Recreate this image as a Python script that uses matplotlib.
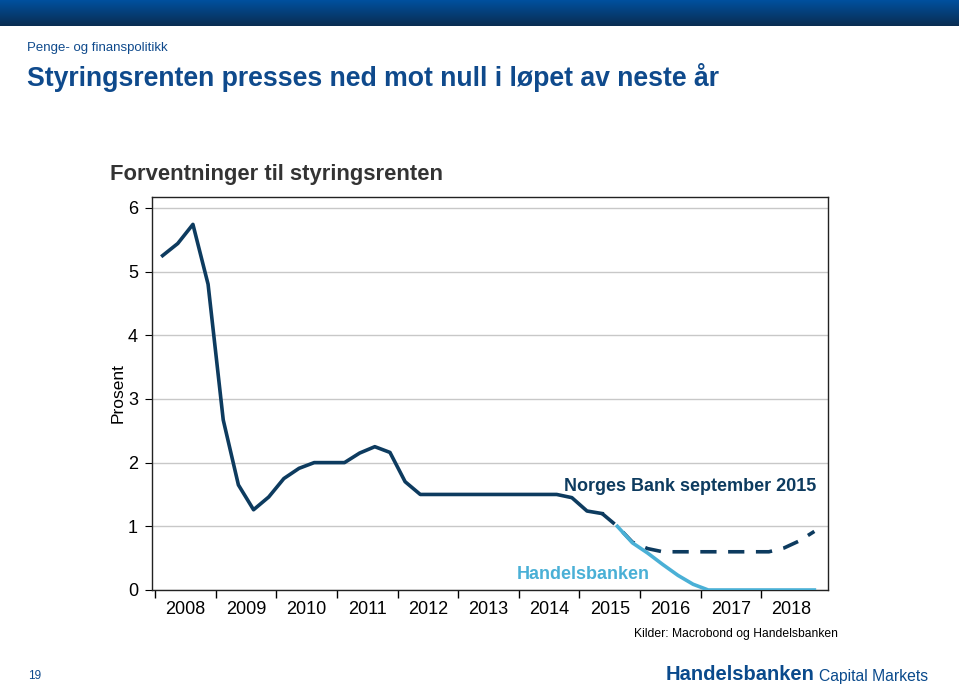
import numpy as np
import matplotlib.pyplot as plt
from matplotlib.ticker import FixedLocator, NullFormatter
from matplotlib.colors import LinearSegmentedColormap

plt.rcParams['font.family'] = ['Liberation Sans', 'DejaVu Sans']

# quarterly data 2008 Q1 - 2018 Q4
quarters = 2008.125 + 0.25 * np.arange(44)
norges_bank = [5.25, 5.44, 5.74, 4.8, 2.67, 1.65, 1.26, 1.46, 1.75, 1.91,
               2.0, 2.0, 2.0, 2.15, 2.25, 2.16, 1.7, 1.5, 1.5, 1.5,
               1.5, 1.5, 1.5, 1.5, 1.5, 1.5, 1.5, 1.45, 1.24, 1.2,
               1.0, 0.75, 0.65, 0.6, 0.6, 0.6, 0.6, 0.6, 0.6, 0.6,
               0.6, 0.66, 0.77, 0.92]
last_actual = 29
handelsbanken_start = 30
handelsbanken = [1.0, 0.74, 0.58, 0.4, 0.23, 0.09, 0.0, 0.0, 0.0, 0.0,
                 0.0, 0.0, 0.0, 0.0]
years = list(range(2008, 2019))

navy = '#0d3b5f'
light = '#4ab0d6'
head_blue = '#0f4a8c'

fig = plt.figure(figsize=(9.59, 6.86), dpi=100)

# top banner
banner = fig.add_axes([0, 1 - 26 / 686, 1, 26 / 686])
grad = np.linspace(0, 1, 50).reshape(-1, 1)
cmap = LinearSegmentedColormap.from_list('b', ['#0a2d52', '#00509e'])
banner.imshow(grad, aspect='auto', cmap=cmap, origin='lower', extent=[0, 1, 0, 1])
banner.axis('off')

fig.text(27 / 959, 1 - 48 / 686, 'Penge- og finanspolitikk', color=head_blue,
         fontsize=9.5, va='center')
fig.text(27 / 959, 1 - 78 / 686, 'Styringsrenten presses ned mot null i løpet av neste år',
         color=head_blue, fontsize=19.2, fontweight='bold', va='center')
fig.text(110 / 959, 1 - 175 / 686, 'Forventninger til styringsrenten', color='#333333',
         fontsize=15.8, fontweight='bold', va='center')

ax = fig.add_axes([152 / 959, 1 - 590 / 686, 676 / 959, 393 / 686])
x = np.array(quarters)
nb = np.array(norges_bank)
ax.plot(x[:last_actual + 1], nb[:last_actual + 1], color=navy, lw=2.6,
        solid_joinstyle='round')
ax.plot(x[last_actual:], nb[last_actual:], color=navy, lw=2.6,
        linestyle=(0, (4.5, 3.2)), dash_capstyle='butt')
ax.plot(x[handelsbanken_start:], handelsbanken, color=light, lw=2.6,
        solid_joinstyle='round', zorder=3)

ax.set_xlim(2007.95, 2019.1)
ax.set_ylim(0, 6.17)
ax.set_yticks(range(0, 7))
ax.grid(axis='y', color='#c8c8c8', lw=1)
ax.set_axisbelow(True)

ax.xaxis.set_major_locator(FixedLocator(years))
ax.xaxis.set_major_formatter(NullFormatter())
ax.xaxis.set_minor_locator(FixedLocator([y + 0.5 for y in years]))
ax.set_xticklabels([str(y) for y in years], minor=True)
ax.tick_params(axis='x', which='major', length=6, width=1, direction='out')
ax.tick_params(axis='x', which='minor', length=0, labelsize=13, pad=8)
ax.tick_params(axis='y', length=5, labelsize=13, pad=5)
for s in ax.spines.values():
    s.set_color('#222222')
    s.set_linewidth(1)
ax.set_ylabel('Prosent', fontsize=12.5, labelpad=2)

ax.text(2016.83, 1.62, 'Norges Bank september 2015', color=navy, fontsize=13,
        fontweight='bold', ha='center', va='center')
ax.text(2013.97, 0.24, 'Handelsbanken', color=light, fontsize=13,
        fontweight='bold', ha='left', va='center')

fig.text(838 / 959, 1 - 634 / 686, 'Kilder: Macrobond og Handelsbanken',
         fontsize=8.7, ha='right', va='center')
fig.text(35 / 959, 1 - 676 / 686, '19', color=head_blue, fontsize=8.5,
         ha='center', va='center')
fig.text(666 / 959, 1 - 675 / 686, 'Handelsbanken', color='#0a4a8c',
         fontsize=14.5, fontweight='bold', va='center')
fig.text(819 / 959, 1 - 676 / 686, 'Capital Markets', color='#0a4a8c',
         fontsize=11.3, va='center')

fig.savefig('out.png', dpi=100)
